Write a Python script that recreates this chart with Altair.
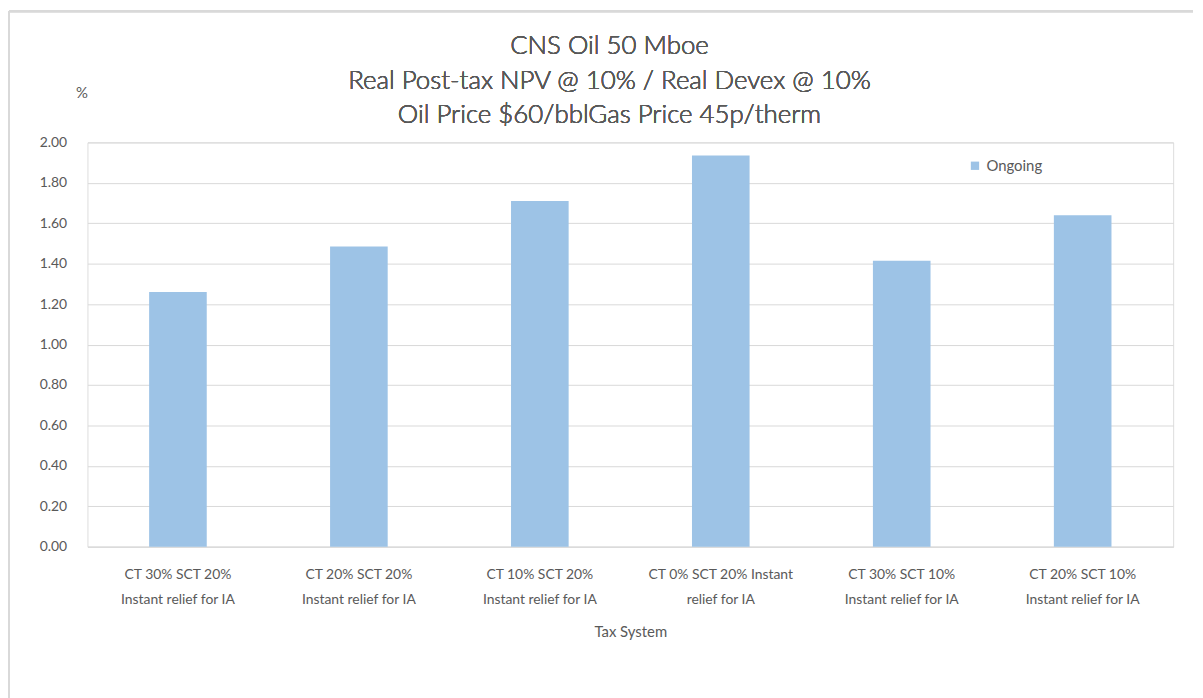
import altair as alt
import pandas as pd

categories = [
    "CT 30% SCT 20% Instant relief for IA",
    "CT 20% SCT 20% Instant relief for IA",
    "CT 10% SCT 20% Instant relief for IA",
    "CT 0% SCT 20% Instant relief for IA",
    "CT 30% SCT 10% Instant relief for IA",
    "CT 20% SCT 10% Instant relief for IA",
]
ongoing = [1.26, 1.485, 1.71, 1.935, 1.415, 1.64]
series_name = "Ongoing"
title_lines = [
    "CNS Oil 50 Mboe",
    "Real Post-tax NPV @ 10% / Real Devex @ 10%",
    "Oil Price $60/bblGas Price 45p/therm",
]
y_ticks = [0, 0.2, 0.4, 0.6, 0.8, 1.0, 1.2, 1.4, 1.6, 1.8, 2.0]

df = pd.DataFrame({"Tax System": categories, "Value": ongoing, "Series": series_name})

FONT = "Lato"
TXT = "#595959"
GRID = "#d9d9d9"

W, H = 1093, 407

label_expr = (
    "substring(datum.label, 0, 5) == 'CT 0%' ? "
    "split(replace(datum.label, 'Instant ', 'Instant|'), '|') : "
    "split(replace(datum.label, ' Instant', '|Instant'), '|')"
)

bars = alt.Chart(df).mark_bar(size=58).encode(
    x=alt.X(
        "Tax System:N",
        sort=categories,
        scale=alt.Scale(paddingInner=0.68, paddingOuter=0.34),
        axis=alt.Axis(
            title="Tax System",
            labelAngle=0,
            labelExpr=label_expr,
            labelFont=FONT,
            labelFontSize=14,
            labelColor=TXT,
            labelLineHeight=25,
            labelPadding=21,
            labelLimit=200,
            ticks=False,
            domainColor=GRID,
            domainWidth=1,
            titleFont=FONT,
            titleFontSize=15,
            titleFontWeight="normal",
            titleColor=TXT,
            titlePadding=18,
        ),
    ),
    y=alt.Y(
        "Value:Q",
        scale=alt.Scale(domain=[0, 2]),
        axis=alt.Axis(
            title="%",
            titleAngle=0,
            titleX=-6,
            titleY=-42,
            titleAlign="center",
            titleFont=FONT,
            titleFontSize=15,
            titleFontWeight="normal",
            titleColor=TXT,
            values=y_ticks,
            format=".2f",
            labelFont=FONT,
            labelFontSize=14,
            labelColor=TXT,
            labelPadding=21,
            ticks=False,
            domain=False,
            gridColor=GRID,
            gridWidth=1,
        ),
    ),
    color=alt.Color(
        "Series:N",
        scale=alt.Scale(range=["#9dc3e6"]),
        legend=alt.Legend(
            title=None,
            orient="none",
            legendX=886,
            legendY=16,
            symbolType="square",
            symbolSize=70,
            symbolStrokeWidth=0,
            labelFont=FONT,
            labelFontSize=15,
            labelColor=TXT,
        ),
    ),
)

border = alt.Chart(df).mark_rule(color="#d9d9d9", strokeWidth=2).encode(
    x=alt.value(-79), x2=alt.value(W + 20), y=alt.value(-132), y2=alt.value(-132)
)
border_left = alt.Chart(df).mark_rule(color="#d9d9d9", strokeWidth=2).encode(
    x=alt.value(-79), x2=alt.value(-79), y=alt.value(-132), y2=alt.value(H + 160)
)

title_y = [-97, -62, -28]
title_layers = [
    alt.Chart(df).mark_text(
        font=FONT, fontSize=26, fontWeight=300, color=TXT, align="center", baseline="middle"
    ).encode(x=alt.value(W / 2 - 21), y=alt.value(ty), text=alt.value(line))
    for line, ty in zip(title_lines, title_y)
]

chart = (
    alt.layer(border, border_left, bars, *title_layers)
    .properties(
        width=W,
        height=H,
        autosize=alt.AutoSizeParams(type="none"),
        padding={"left": 80, "top": 133, "right": 22, "bottom": 150},
    )
    .configure_view(stroke=None)
    .configure(background="white")
)

chart.save("out.html", embed_options={"renderer": "svg", "actions": False})
